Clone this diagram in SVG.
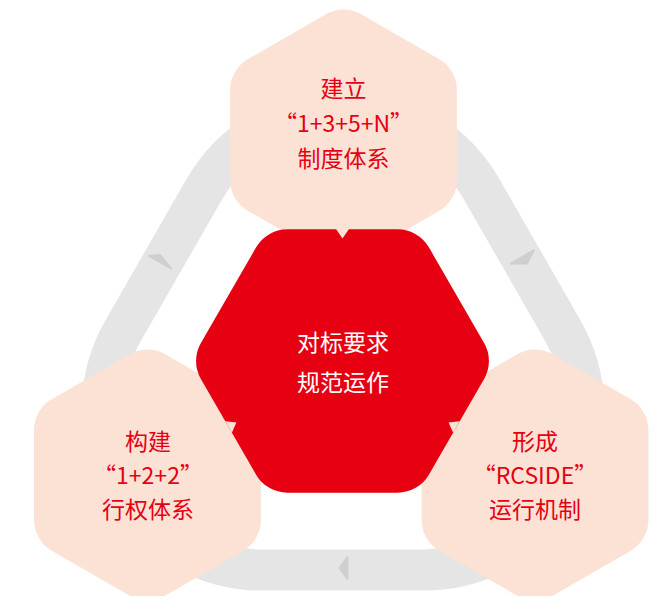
<svg xmlns="http://www.w3.org/2000/svg" xmlns:xlink="http://www.w3.org/1999/xlink" width="658" height="596" viewBox="0 0 658 596">
<style>
.band{fill:none;stroke:#e5e5e5;stroke-width:41}
.mark{fill:#cfcfcf;stroke:#cfcfcf;stroke-width:2;stroke-linejoin:round}
.outer{fill:#fbe2d5}
.core{fill:#e60012}
.ptr{fill:#fbe2d5}
text{font-family:"Noto Sans CJK SC","Noto Sans",sans-serif;font-size:23px;text-anchor:middle}
.lbl{fill:#e60012}
.ctr{fill:#ffffff}
</style>
<defs>
<path id="hexOuter" d="M-18,-120.61 A36,36 0 0 1 18,-120.61 L95.45,-75.89 A36,36 0 0 1 113.45,-44.72 L113.45,44.72 A36,36 0 0 1 95.45,75.89 L18,120.61 A36,36 0 0 1 -18,120.61 L-95.45,75.89 A36,36 0 0 1 -113.45,44.72 L-113.45,-44.72 A36,36 0 0 1 -95.45,-75.89 Z"/>
</defs>
<g id="connectors">
<path class="band" d="M204.5,188.9 A160,160 0 0 1 481.5,188.9 L562.5,330.1 A160,160 0 0 1 424,570 L262,570 A160,160 0 0 1 123.5,330.1 Z"/>
<polygon class="mark" points="149,256 160,255 171,268.5"/>
<polygon class="mark" points="511,263.5 534,250 527,263.5"/>
<polygon class="mark" points="347.5,557 347.5,579 339.5,568"/>
</g>
<g id="node-top">
<use xlink:href="#hexOuter" class="outer" transform="translate(343.5,135)"/>
<text class="lbl" x="343.5" y="96.5">建立</text>
<text class="lbl" x="343.5" y="131.5">“1+3+5+N”</text>
<text class="lbl" x="343.5" y="166.5">制度体系</text>
</g>
<g id="node-left">
<use xlink:href="#hexOuter" class="outer" transform="translate(147.5,475)"/>
<text class="lbl" x="148" y="450">构建</text>
<text class="lbl" x="148" y="483.5">“1+2+2”</text>
<text class="lbl" x="148" y="518">行权体系</text>
</g>
<g id="node-right">
<use xlink:href="#hexOuter" class="outer" transform="translate(535,475)"/>
<text class="lbl" x="535" y="450">形成</text>
<text class="lbl" x="535" y="484">“RCSIDE”</text>
<text class="lbl" x="535" y="518">运行机制</text>
</g>
<g id="node-center">
<path class="core" transform="translate(342.5,361)" d="M141.61,-18 A36,36 0 0 1 141.61,18 L86.39,113.64 A36,36 0 0 1 55.22,131.64 L-55.22,131.64 A36,36 0 0 1 -86.39,113.64 L-141.61,18 A36,36 0 0 1 -141.61,-18 L-86.39,-113.64 A36,36 0 0 1 -55.22,-131.64 L55.22,-131.64 A36,36 0 0 1 86.39,-113.64 Z"/>
<polygon class="ptr" points="336,229 349,229 342.5,238.5"/>
<polygon class="ptr" points="225.35,421.37 231.85,432.63 236.4,422.5"/>
<polygon class="ptr" points="459.65,421.37 453.15,432.63 448.6,422.5"/>
<text class="ctr" x="343" y="350.5">对标要求</text>
<text class="ctr" x="343" y="391">规范运作</text>
</g>
</svg>
